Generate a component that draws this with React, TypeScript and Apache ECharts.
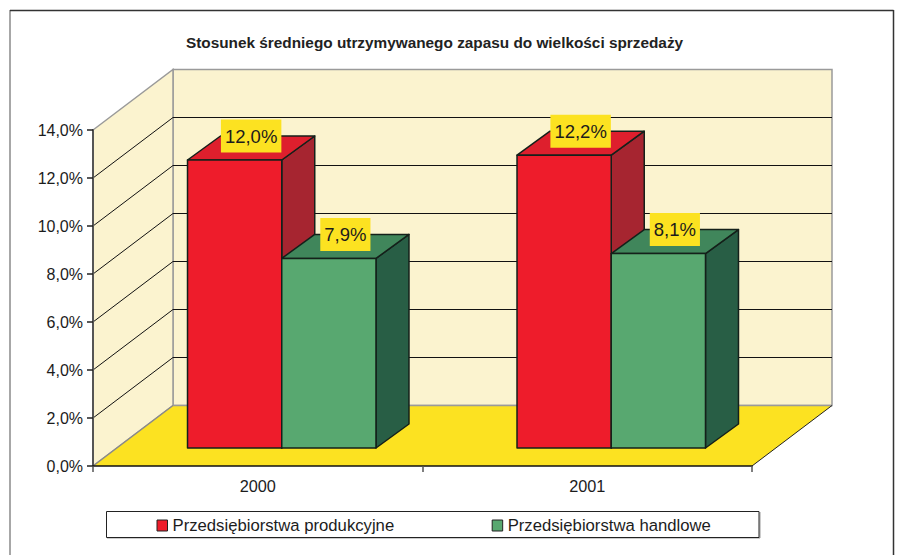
import React, { useEffect, useRef } from "react";
import * as echarts from "echarts";

const titleText = "Stosunek średniego utrzymywanego zapasu do wielkości sprzedaży";
const categories = ["2000", "2001"];
const producers = [12.0, 12.2];
const traders = [7.9, 8.1];
const yTicks = [2, 4, 6, 8, 10, 12, 14];
const producersName = "Przedsiębiorstwa produkcyjne";
const tradersName = "Przedsiębiorstwa handlowe";

const FONT = '"Liberation Sans", Arial, sans-serif';
const INK = "#1c1c1c";
const EDGE = "#14201a";
const WALL_DX = 80;
const WALL_DY = -60.5;
const FACE_DX = 24;
const FACE_DY = -18;
const BAR_DX = 33;
const BAR_DY = -24;
const BAR_RATIO = 0.286;

const fmt = (v: number) => v.toFixed(1).replace(".", ",") + "%";

function wallsItem(params: any, api: any) {
  const c = params.coordSys;
  const x0 = c.x, x1 = c.x + c.width;
  const y0 = c.y + c.height, yTop = c.y;
  const wallStyle = { fill: "#FBF3CF", stroke: "#9a9a9a", lineWidth: 1.5 };
  const children: any[] = [
    { type: "polygon", shape: { points: [[x0 + WALL_DX, yTop + WALL_DY], [x1 + WALL_DX, yTop + WALL_DY], [x1 + WALL_DX, y0 + WALL_DY], [x0 + WALL_DX, y0 + WALL_DY]] }, style: wallStyle },
    { type: "polygon", shape: { points: [[x0, yTop], [x0 + WALL_DX, yTop + WALL_DY], [x0 + WALL_DX, y0 + WALL_DY], [x0, y0]] }, style: wallStyle },
    { type: "polygon", shape: { points: [[x0, y0], [x1, y0], [x1 + WALL_DX, y0 + WALL_DY], [x0 + WALL_DX, y0 + WALL_DY]] }, style: { fill: "#FCE221", stroke: "none" } },
    { type: "line", shape: { x1: x0, y1: y0, x2: x0 + WALL_DX, y2: y0 + WALL_DY }, style: { stroke: "#8a8a8a", lineWidth: 1.5 } },
    { type: "line", shape: { x1: x0 + WALL_DX, y1: y0 + WALL_DY, x2: x1 + WALL_DX, y2: y0 + WALL_DY }, style: { stroke: "#9a9a9a", lineWidth: 1.5 } },
    { type: "line", shape: { x1: x1, y1: y0, x2: x1 + WALL_DX, y2: y0 + WALL_DY }, style: { stroke: "#222", lineWidth: 1 } },
  ];
  yTicks.slice(0, -1).forEach((t) => {
    const y = api.coord([0, t])[1];
    children.push({
      type: "polyline",
      shape: { points: [[x0, y], [x0 + WALL_DX, y + WALL_DY], [x1 + WALL_DX, y + WALL_DY]] },
      style: { fill: "none", stroke: "#111", lineWidth: 1 },
    });
  });
  return { type: "group", children };
}

function barRenderer(side: number, front: string, top: string, flank: string) {
  return (_params: any, api: any) => {
    const cat = api.value(0);
    const val = api.value(1);
    const base = api.coord([cat, 0]);
    const head = api.coord([cat, val]);
    const w = api.size([1, 0])[0] * BAR_RATIO;
    const xa = base[0] + FACE_DX + (side < 0 ? -w : 0);
    const xb = xa + w;
    const yb = base[1] + FACE_DY;
    const yt = head[1] + FACE_DY;
    const stroke = { stroke: EDGE, lineWidth: 1.5, lineJoin: "round" };
    return {
      type: "group",
      children: [
        { type: "polygon", shape: { points: [[xb, yt], [xb + BAR_DX, yt + BAR_DY], [xb + BAR_DX, yb + BAR_DY], [xb, yb]] }, style: { fill: flank, ...stroke } },
        { type: "polygon", shape: { points: [[xa, yt], [xa + BAR_DX, yt + BAR_DY], [xb + BAR_DX, yt + BAR_DY], [xb, yt]] }, style: { fill: top, ...stroke } },
        { type: "rect", shape: { x: xa, y: yt, width: w, height: yb - yt }, style: { fill: front, ...stroke } },
        {
          type: "text",
          z2: 50,
          style: {
            text: fmt(val),
            x: (xa + xb) / 2 + BAR_DX / 2,
            y: yt + BAR_DY,
            align: "center",
            verticalAlign: "middle",
            fill: INK,
            font: `18.5px ${FONT}`,
            backgroundColor: "#FCE221",
            padding: [7, 4, 7, 4],
          },
        },
      ],
    };
  };
}

const legendSwatch = (color: string) => ({ color, borderColor: "#222", borderWidth: 1 });

export default function App() {
  const ref = useRef<HTMLDivElement>(null);
  useEffect(() => {
    const chart = echarts.init(ref.current!, undefined, { renderer: "svg" });
    chart.setOption({
      animation: false,
      backgroundColor: "#ffffff",
      title: {
        text: titleText,
        left: 181,
        top: 30,
        textStyle: { fontFamily: FONT, fontSize: 15.35, fontWeight: "bold", color: "#222" },
      },
      grid: { left: 93, top: 130, width: 659, height: 336 },
      xAxis: {
        type: "category",
        data: categories,
        z: 5,
        axisLine: { lineStyle: { color: "#111", width: 1.5 } },
        axisTick: { show: true, length: 6, lineStyle: { color: "#555", width: 1.5 } },
        axisLabel: { margin: 12, fontFamily: FONT, fontSize: 16.3, color: INK },
      },
      yAxis: {
        type: "value",
        min: 0,
        max: 14,
        interval: 2,
        z: 5,
        splitLine: { show: false },
        axisLine: { show: true, lineStyle: { color: "#555", width: 2 } },
        axisTick: { show: true, length: 6, lineStyle: { color: "#222", width: 1.5 } },
        axisLabel: { margin: 10, fontFamily: FONT, fontSize: 16, color: INK, formatter: (v: number) => fmt(v) },
      },
      legend: {
        left: 151.5,
        top: 512,
        icon: "rect",
        itemWidth: 10.5,
        itemHeight: 11,
        itemGap: 97.5,
        textStyle: { fontFamily: FONT, fontSize: 16.7, color: INK },
        data: [
          { name: producersName, itemStyle: legendSwatch("#EE1C2B") },
          { name: tradersName, itemStyle: legendSwatch("#58A870") },
        ],
      },
      graphic: [
        { type: "line", z: -1, shape: { x1: 10, y1: 10, x2: 10, y2: 555 }, style: { stroke: "#8a8a8a", lineWidth: 1.5 } },
        { type: "line", z: -1, shape: { x1: 10, y1: 10.5, x2: 893.5, y2: 10.5 }, style: { stroke: "#333", lineWidth: 1.5 } },
        { type: "line", z: -1, shape: { x1: 893.5, y1: 10, x2: 893.5, y2: 555 }, style: { stroke: "#333", lineWidth: 1.5 } },
        { type: "polyline", z: -1, shape: { points: [[760, 512], [760, 538], [107, 538]] }, style: { fill: "none", stroke: "#999", lineWidth: 1 } },
        { type: "rect", z: -1, shape: { x: 106.5, y: 511.5, width: 652.5, height: 26 }, style: { fill: "#fff", stroke: "#222", lineWidth: 1 } },
      ],
      series: [
        { type: "custom", name: "tlo", silent: true, z: 1, renderItem: wallsItem, data: [[0]] },
        {
          type: "custom",
          name: producersName,
          z: 3,
          itemStyle: { color: "#EE1C2B" },
          renderItem: barRenderer(-1, "#EE1C2B", "#DE1F2D", "#A62530"),
          data: producers.map((v, i) => [i, v]),
        },
        {
          type: "custom",
          name: tradersName,
          z: 3,
          itemStyle: { color: "#58A870" },
          renderItem: barRenderer(1, "#58A870", "#40865B", "#285E45"),
          data: traders.map((v, i) => [i, v]),
        },
      ],
    });
    return () => chart.dispose();
  }, []);
  return <div ref={ref} style={{ position: "absolute", left: 0, top: 0, width: 898, height: 555 }} />;
}
